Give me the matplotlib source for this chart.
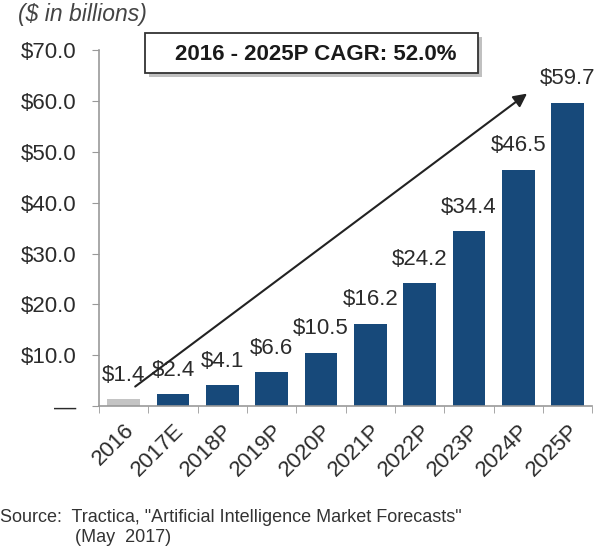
import numpy as np
import matplotlib.pyplot as plt
import matplotlib.patheffects as pe
from matplotlib.patches import Rectangle

years = ['2016', '2017E', '2018P', '2019P', '2020P', '2021P', '2022P', '2023P', '2024P', '2025P']
revenue = [1.4, 2.4, 4.1, 6.6, 10.5, 16.2, 24.2, 34.4, 46.5, 59.7]
y_ticks = [0, 10, 20, 30, 40, 50, 60, 70]

plt.rcParams['font.family'] = ['Liberation Sans', 'DejaVu Sans']

navy = '#17497a'
grey = '#c4c4c4'
txt = '#2b2b2b'
fs = 16

fig = plt.figure(figsize=(5.96, 5.52), dpi=100)
ax = fig.add_axes([0.166, 0.2645, 0.828, 0.6445])

x = np.arange(len(years))
colors = [grey] + [navy] * (len(years) - 1)
ax.bar(x, revenue, width=0.66, color=colors)

for xi, v in zip(x, revenue):
    ax.text(xi, v + 2.6, '$%.1f' % v, ha='center', va='bottom', fontsize=fs, color=txt)

ax.set_xlim(-0.5, len(years) - 0.5)
ax.set_ylim(0, 70)

ax.set_yticks(y_ticks)
ax.set_yticklabels(['—'] + ['$%.1f' % t for t in y_ticks[1:]], fontsize=fs, color=txt)
ax.tick_params(axis='y', direction='out', length=5, color='#999999', pad=11)

ax.set_xticks(x)
ax.set_xticklabels(years, rotation=45, ha='right', rotation_mode='anchor', fontsize=fs, color=txt)
ax.set_xticks(np.arange(-0.5, len(years)), minor=True)
ax.tick_params(axis='x', which='major', length=0, pad=10)
ax.tick_params(axis='x', which='minor', direction='out', length=5, color='#999999')

for s in ['top', 'right']:
    ax.spines[s].set_visible(False)
for s in ['left', 'bottom']:
    ax.spines[s].set_color('#999999')
    ax.spines[s].set_linewidth(1.2)

# CAGR arrow
ax.annotate('', xy=(8.22, 61.8), xytext=(0.19, 3.5),
            arrowprops=dict(arrowstyle='-|>', color='#222222', lw=1.5, mutation_scale=20))

# CAGR box
rect = Rectangle((0.2433, 0.8678), 0.5587, 0.0725, transform=fig.transFigure,
                 facecolor='white', edgecolor='#333333', lw=1.3)
rect.set_path_effects([pe.SimplePatchShadow(offset=(3, -3), alpha=0.35), pe.Normal()])
fig.add_artist(rect)
fig.text(0.53, 0.902, '2016 - 2025P CAGR: 52.0%', ha='center', va='center',
         fontsize=16, fontweight='bold', color='#1a1a1a')

fig.text(0.03, 0.973, '($ in billions)', ha='left', va='center', fontsize=16.5,
         style='italic', color='#444444')

fig.text(0.0, 0.0616, 'Source:  Tractica, "Artificial Intelligence Market Forecasts"',
         ha='left', va='center', fontsize=13, color='#333333')
fig.text(0.126, 0.0254, '(May  2017)', ha='left', va='center', fontsize=13, color='#333333')

fig.savefig('out.png', dpi=100)
